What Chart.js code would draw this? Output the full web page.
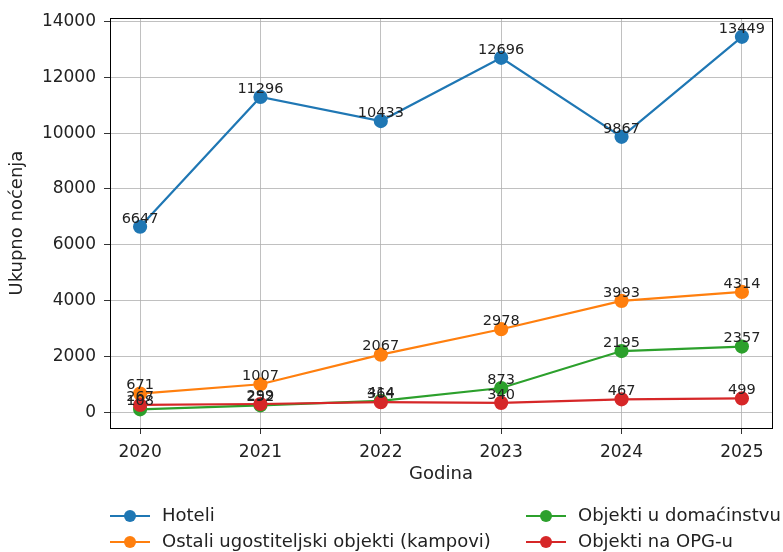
<!DOCTYPE html>
<html>
<head>
  <title>Ukupno noćenja</title>
  <script src="https://cdn.jsdelivr.net/npm/chart.js"></script>
  <style>
    body { margin: 0; background: #fff; }
    #wrap { width: 783px; height: 552px; }
  </style>
</head>
<body>
  <div id="wrap"><canvas id="chart" width="783" height="552"></canvas></div>

  <script>
    const years = [2020, 2021, 2022, 2023, 2024, 2025];
    const hoteli = [6647, 11296, 10433, 12696, 9867, 13449];
    const ostali = [671, 1007, 2067, 2978, 3993, 4314];
    const domacinstvo = [108, 252, 414, 873, 2195, 2357];
    const opg = [267, 299, 364, 340, 467, 499];
    const yTicks = [0, 2000, 4000, 6000, 8000, 10000, 12000, 14000];

    const FONT = 'DejaVu Sans';

    function series(label, values, color, order) {
      return {
        label: label,
        data: values.map((v, i) => ({ x: years[i], y: v })),
        borderColor: color,
        backgroundColor: color,
        pointBackgroundColor: color,
        pointBorderColor: color,
        borderWidth: 2.2,
        pointRadius: 6,
        pointHoverRadius: 6,
        tension: 0,
        order: order
      };
    }

    // value labels above each point, drawn on top like the annotations
    const valueLabels = {
      id: 'valueLabels',
      afterDatasetsDraw(chart) {
        const ctx = chart.ctx;
        ctx.save();
        ctx.font = '14.5px ' + FONT;
        ctx.fillStyle = '#222';
        ctx.textAlign = 'center';
        ctx.textBaseline = 'middle';
        chart.data.datasets.forEach((ds, di) => {
          chart.getDatasetMeta(di).data.forEach((pt, i) => {
            ctx.fillText(String(ds.data[i].y), pt.x, pt.y - 8);
          });
        });
        ctx.restore();
      }
    };

    // axes frame + legend in two columns under the plot
    const frameAndLegend = {
      id: 'frameAndLegend',
      afterDraw(chart) {
        const ctx = chart.ctx;
        const a = chart.chartArea;
        ctx.save();
        ctx.strokeStyle = '#000';
        ctx.lineWidth = 1;
        ctx.strokeRect(Math.round(a.left) + 0.5, Math.round(a.top) + 0.5,
          Math.round(a.right - a.left), Math.round(a.bottom - a.top));

        const cols = [[0, 1], [2, 3]];
        const colX = [110, 526];
        const rowY = [516, 542];
        ctx.font = '18px ' + FONT;
        ctx.textBaseline = 'middle';
        ctx.textAlign = 'left';
        cols.forEach((col, c) => {
          col.forEach((di, r) => {
            const ds = chart.data.datasets[di];
            const x = colX[c], y = rowY[r];
            ctx.strokeStyle = ds.borderColor;
            ctx.lineWidth = 2.2;
            ctx.beginPath();
            ctx.moveTo(x, y);
            ctx.lineTo(x + 40, y);
            ctx.stroke();
            ctx.fillStyle = ds.borderColor;
            ctx.beginPath();
            ctx.arc(x + 20, y, 6, 0, Math.PI * 2);
            ctx.fill();
            ctx.fillStyle = '#222';
            ctx.fillText(ds.label, x + 52, y);
          });
        });
        ctx.restore();
      }
    };

    new Chart(document.getElementById('chart'), {
      type: 'line',
      data: {
        datasets: [
          series('Hoteli', hoteli, '#1f77b4', 4),
          series('Ostali ugostiteljski objekti (kampovi)', ostali, '#ff7f0e', 3),
          series('Objekti u domaćinstvu', domacinstvo, '#2ca02c', 2),
          series('Objekti na OPG-u', opg, '#d62728', 1)
        ]
      },
      options: {
        responsive: false,
        animation: false,
        layout: { padding: { top: 18, right: 11, bottom: 67, left: 0 } },
        plugins: {
          legend: { display: false },
          tooltip: { enabled: false }
        },
        scales: {
          x: {
            type: 'linear',
            min: 2019.75,
            max: 2025.25,
            afterBuildTicks(scale) { scale.ticks = years.map(v => ({ value: v })); },
            afterFit(scale) { scale.height = 57; },
            grid: { color: '#b0b0b0', lineWidth: 0.8, tickLength: 6, tickColor: '#000', drawTicks: true },
            border: { display: false },
            ticks: {
              color: '#222',
              font: { family: FONT, size: 17 },
              padding: 8,
              callback: v => String(v)
            },
            title: {
              display: true,
              text: 'Godina',
              color: '#222',
              font: { family: FONT, size: 18 },
              padding: { top: 0, bottom: 0 }
            }
          },
          y: {
            min: -560,
            max: 14116,
            afterBuildTicks(scale) { scale.ticks = yTicks.map(v => ({ value: v })); },
            afterFit(scale) { scale.width = 110; },
            grid: { color: '#b0b0b0', lineWidth: 0.8, tickLength: 6, tickColor: '#000', drawTicks: true },
            border: { display: false },
            ticks: {
              color: '#222',
              font: { family: FONT, size: 17 },
              padding: 8,
              callback: v => String(v)
            },
            title: {
              display: true,
              text: 'Ukupno noćenja',
              color: '#222',
              font: { family: FONT, size: 18 },
              padding: { top: 7, bottom: 0 }
            }
          }
        }
      },
      plugins: [valueLabels, frameAndLegend]
    });
  </script>
</body>
</html>
